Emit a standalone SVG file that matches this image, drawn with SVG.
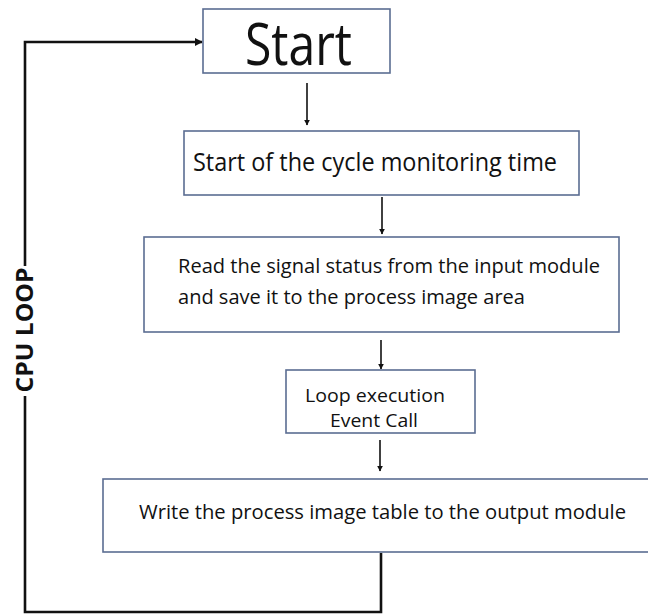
<svg xmlns="http://www.w3.org/2000/svg" width="648" height="614" viewBox="0 0 648 614">
  <style>
    .box { fill: #ffffff; stroke: #5b6d92; stroke-width: 1.6; }
    .lbl { font-family: "Open Sans", "Liberation Sans", Arial, sans-serif; fill: #111111; }
    .flow { fill: none; stroke: #111111; stroke-width: 1.6; }
    .loop { fill: none; stroke: #111111; stroke-width: 2.6; }
  </style>
  <defs>
    <marker id="arrow" viewBox="0 0 10 10" refX="9" refY="5" markerWidth="6" markerHeight="7" markerUnits="userSpaceOnUse" orient="auto">
      <path d="M0,0 L10,5 L0,10 Z" fill="#111111"/>
    </marker>
    <marker id="arrowLoop" viewBox="0 0 10 10" refX="9" refY="5" markerWidth="8" markerHeight="8" markerUnits="userSpaceOnUse" orient="auto">
      <path d="M0,0 L10,5 L0,10 Z" fill="#111111"/>
    </marker>
  </defs>
  <rect width="648" height="614" fill="#ffffff"/>

  <!-- connectors -->
  <g id="connectors">
    <line class="flow" x1="307" y1="83" x2="307" y2="125" marker-end="url(#arrow)"/>
    <line class="flow" x1="382" y1="197" x2="382" y2="234" marker-end="url(#arrow)"/>
    <line class="flow" x1="381" y1="340" x2="381" y2="369" marker-end="url(#arrow)"/>
    <line class="flow" x1="380" y1="440" x2="380" y2="471" marker-end="url(#arrow)"/>
    <polyline class="loop" points="381,553 381,612 25,612 25,42 202,42" marker-end="url(#arrowLoop)"/>
  </g>

  <!-- loop label -->
  <g id="cpu-loop">
    <rect x="9" y="266" width="50" height="130" fill="#ffffff"/>
    <text class="lbl" transform="translate(33,330) rotate(-90)" text-anchor="middle" font-size="23" font-weight="bold" textLength="125" lengthAdjust="spacingAndGlyphs">CPU LOOP</text>
  </g>

  <g id="start">
    <rect class="box" x="203" y="9" width="187" height="64"/>
    <text class="lbl" x="298.5" y="65" text-anchor="middle" font-size="58" textLength="107" lengthAdjust="spacingAndGlyphs">Start</text>
  </g>

  <g id="cycle-monitoring">
    <rect class="box" x="184" y="131" width="395" height="64"/>
    <text class="lbl" x="375" y="171" text-anchor="middle" font-size="25" textLength="364" lengthAdjust="spacingAndGlyphs">Start of the cycle monitoring time</text>
  </g>

  <g id="read-inputs">
    <rect class="box" x="144" y="237" width="475" height="95"/>
    <text class="lbl" x="178" y="273" font-size="20" textLength="422" lengthAdjust="spacingAndGlyphs">Read the signal status from the input module</text>
    <text class="lbl" x="178" y="304" font-size="20" textLength="347" lengthAdjust="spacingAndGlyphs">and save it to the process image area</text>
  </g>

  <g id="loop-execution">
    <rect class="box" x="286" y="370" width="189" height="63"/>
    <text class="lbl" x="375" y="402" text-anchor="middle" font-size="19" textLength="140" lengthAdjust="spacingAndGlyphs">Loop execution</text>
    <text class="lbl" x="374" y="427" text-anchor="middle" font-size="19" textLength="88" lengthAdjust="spacingAndGlyphs">Event Call</text>
  </g>

  <g id="write-outputs">
    <rect class="box" x="103" y="479" width="570" height="73"/>
    <text class="lbl" x="139" y="519" font-size="20" textLength="487" lengthAdjust="spacingAndGlyphs">Write the process image table to the output module</text>
  </g>
</svg>
